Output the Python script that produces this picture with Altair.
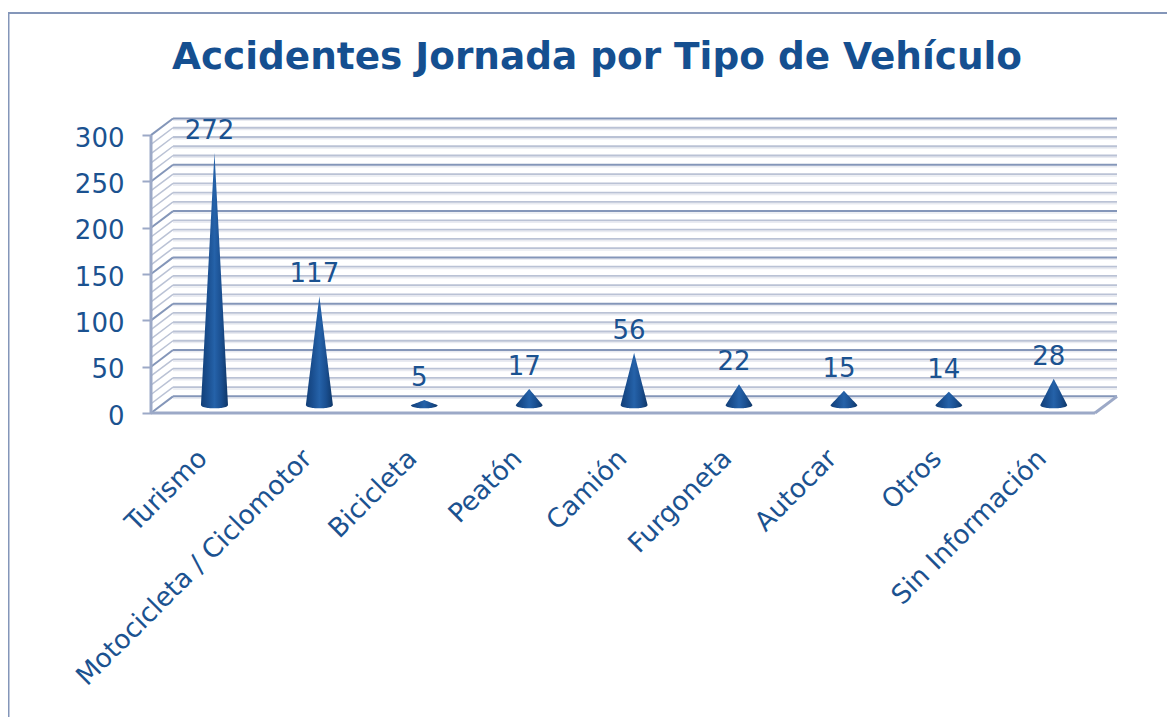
import json
import altair as alt
import pandas as pd

categories = ["Turismo", "Motocicleta / Ciclomotor", "Bicicleta", "Peatón", "Camión",
              "Furgoneta", "Autocar", "Otros", "Sin Información"]
values = [272, 117, 5, 17, 56, 22, 15, 14, 28]
y_ticks = [0, 50, 100, 150, 200, 250, 300]
grid_values = list(range(0, 301, 10))

BLUE = "#1B5290"
TITLE_BLUE = "#154F90"
MAJOR = "#8496B9"
AXIS_LINE = "#9CA9C7"
MINOR = "#BAC2D5"
SHADOW = "#E9EBF1"

X0, X1 = -0.605, 8.603      # axis extents in category units
DEPTH_X, DEPTH_Y = 0.21, 18  # the pseudo-3D shift of the back wall
CONE_W, BASE_Y, BASE_R, APEX_BASE = 0.129, 8.4, 3.4, 9

xs = alt.Scale(domain=[X0, X1], nice=False, zero=False)
ys = alt.Scale(domain=[0, 318.5], nice=False, zero=False)
label_expr = json.dumps(categories) + "[datum.value]"
x_axis = alt.Axis(
    values=list(range(len(categories))), labelExpr=label_expr, labelAngle=-45,
    labelAlign="right", labelBaseline="middle", labelFontSize=26.4, labelFont="DejaVu Sans",
    labelColor=BLUE, labelPadding=41, labelOffset=-12, labelLimit=500,
    labelOverlap=False, labelBound=False, labelFlush=False,
    ticks=False, domain=False, grid=False, title=None)
y_axis = alt.Axis(
    values=y_ticks, labelFontSize=26, labelFont="DejaVu Sans", labelColor=BLUE,
    labelPadding=18, labelOffset=3, tickSize=9, tickColor=AXIS_LINE, tickWidth=2, domain=False, grid=False,
    labelOverlap=False, labelBound=False, labelFlush=False, title=None)
X = lambda f: alt.X(f"{f}:Q", scale=xs, axis=x_axis)
Y = lambda f: alt.Y(f"{f}:Q", scale=ys, axis=y_axis)


def segs(rows):
    return pd.DataFrame(rows, columns=["x", "x2", "y", "y2"])


def rule_layer(df, color, width):
    return alt.Chart(df).mark_rule(color=color, strokeWidth=width).encode(
        x=X("x"), x2="x2:Q", y=Y("y"), y2="y2:Q")


back = X0 + DEPTH_X
minor = [v for v in grid_values if v % 50]
major = [v for v in grid_values if v % 50 == 0]

shadow_back = segs([(back, X1, v + DEPTH_Y - 2, v + DEPTH_Y - 2) for v in grid_values])
minor_back = segs([(back, X1, v + DEPTH_Y, v + DEPTH_Y) for v in minor])
major_back = segs([(back, X1, v + DEPTH_Y, v + DEPTH_Y) for v in major])
minor_side = segs([(X0, back, v, v + DEPTH_Y) for v in minor])
major_side = segs([(X0, back, v, v + DEPTH_Y) for v in major])
frame_lines = segs([
    (X0, X0, 0, 300),
    (X0, X1 - DEPTH_X, 0, 0),
    (X1 - DEPTH_X, X1, 0, DEPTH_Y),
])

steps = [i / 12 - 1 for i in range(25)]
cone_rows = []
for i, (c, v) in enumerate(zip(categories, values)):
    apex = APEX_BASE + v
    for t in steps:
        cone_rows.append({
            "cat": c,
            "x": i + t * CONE_W,
            "top": BASE_Y + (apex - BASE_Y) * (1 - abs(t)),
            "bottom": BASE_Y - BASE_R * (1 - t * t) ** 0.5,
        })
cones = pd.DataFrame(cone_rows)

labels = pd.DataFrame({"x": list(range(len(values))), "v": values,
                       "apex": [APEX_BASE + v for v in values]})

gradient = alt.Gradient(
    gradient="linear", x1=0, x2=1, y1=0, y2=0,
    stops=[alt.GradientStop(color="#123F78", offset=0),
           alt.GradientStop(color="#1A4F90", offset=0.25),
           alt.GradientStop(color="#2562A9", offset=0.5),
           alt.GradientStop(color="#1A4F90", offset=0.75),
           alt.GradientStop(color="#0F3768", offset=1)])

cone_layer = alt.Chart(cones).mark_area(fill=gradient, interpolate="linear").encode(
    x=X("x"), y=Y("top"), y2="bottom:Q", detail="cat:N")

text_layer = alt.Chart(labels).mark_text(
    font="DejaVu Sans", fontSize=26, color=BLUE, baseline="middle", dy=-22, dx=-5
).encode(x=X("x"), y=Y("apex"), text="v:Q")

border = alt.layer(
    alt.Chart().mark_rule(color=MAJOR, strokeWidth=3).encode(
        x=alt.value(-143), y=alt.value(-105), y2=alt.value(600)),
    alt.Chart().mark_rule(color=MAJOR, strokeWidth=2).encode(
        x=alt.value(-143), x2=alt.value(1020), y=alt.value(-105)),
)

chart = alt.layer(
    rule_layer(shadow_back, SHADOW, 1.5),
    rule_layer(minor_side, MINOR, 1.5),
    rule_layer(minor_back, MINOR, 1.8),
    rule_layer(major_side, MAJOR, 2),
    rule_layer(major_back, MAJOR, 2),
    rule_layer(frame_lines, AXIS_LINE, 3),
    cone_layer,
    text_layer,
    border,
).properties(
    width=966, height=295,
    title=alt.TitleParams("Accidentes Jornada por Tipo de Vehículo", font="DejaVu Sans",
                          fontSize=37.4, fontWeight="bold", color=TITLE_BLUE, anchor="middle",
                          frame="group", dx=-37, offset=-65),
    padding={"left": 143, "top": 110, "right": 50, "bottom": 304},
    autosize=alt.AutoSizeParams(type="none"),
).configure_view(stroke=None)

chart.save("out.html", embed_options={"renderer": "svg", "actions": False})
